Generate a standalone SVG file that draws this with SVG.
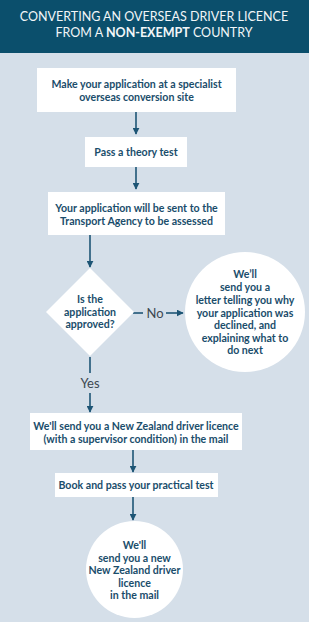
<svg xmlns="http://www.w3.org/2000/svg" width="309" height="622" viewBox="0 0 309 622">
<defs>
<marker id="ah" viewBox="0 0 10 10" refX="9" refY="5" markerWidth="7" markerHeight="7" markerUnits="userSpaceOnUse" orient="auto">
<path d="M0,0 L10,5 L0,10 z" fill="#1d5575"/>
</marker>
</defs>
<style>
.box{fill:#ffffff}
.t{font-family:Lato,"Open Sans","Liberation Sans",sans-serif;font-weight:bold;font-size:10.6px;fill:#1a4d6b;text-anchor:middle}
.h{font-family:Lato,"Open Sans","Liberation Sans",sans-serif;font-weight:normal;font-size:12.5px;fill:#f2f6f8;text-anchor:middle}
.lbl{font-family:Lato,"Open Sans","Liberation Sans",sans-serif;font-weight:normal;font-size:13px;fill:#3d4850;text-anchor:middle}
.c{stroke:#1d5575;stroke-width:1.6;fill:none}
</style>
<rect width="309" height="622" fill="#d5dfe9"/>
<g id="header">
<rect width="309" height="53" fill="#0b4f6c"/>
<text class="h" x="154" y="21">CONVERTING AN OVERSEAS DRIVER LICENCE</text>
<text class="h" x="154" y="37">FROM A <tspan font-weight="bold">NON-EXEMPT</tspan> COUNTRY</text>
</g>
<g id="connectors">
<line class="c" x1="136" y1="112" x2="136" y2="134" marker-end="url(#ah)"/>
<line class="c" x1="136" y1="167" x2="136" y2="189" marker-end="url(#ah)"/>
<line class="c" x1="90" y1="235" x2="90" y2="267" marker-end="url(#ah)"/>
<line class="c" x1="133" y1="313" x2="143" y2="313"/>
<line class="c" x1="166" y1="313" x2="183" y2="313" marker-end="url(#ah)"/>
<line class="c" x1="90" y1="357" x2="90" y2="373"/>
<line class="c" x1="90" y1="393" x2="90" y2="412" marker-end="url(#ah)"/>
<line class="c" x1="133" y1="450" x2="133" y2="472" marker-end="url(#ah)"/>
<line class="c" x1="133" y1="497" x2="133" y2="520" marker-end="url(#ah)"/>
<text class="lbl" x="155" y="318">No</text>
<text class="lbl" x="90" y="388">Yes</text>
</g>
<g id="n1">
<rect class="box" x="37" y="68" width="199" height="44"/>
<text class="t" x="136.5" y="88">Make your application at a specialist</text>
<text class="t" x="136.5" y="101">overseas conversion site</text>
</g>
<g id="n2">
<rect class="box" x="85" y="137" width="102" height="30"/>
<text class="t" x="136" y="156">Pass a theory test</text>
</g>
<g id="n3">
<rect class="box" x="48" y="192" width="177" height="43"/>
<text class="t" x="136.5" y="212">Your application will be sent to the</text>
<text class="t" x="136.5" y="225">Transport Agency to be assessed</text>
</g>
<g id="n4">
<polygon class="box" points="90,268 134,312 90,356 46,312"/>
<text class="t" x="90" y="303">Is the</text>
<text class="t" x="90" y="316">application</text>
<text class="t" x="90" y="328">approved?</text>
</g>
<g id="n5">
<circle class="box" cx="245" cy="312" r="60"/>
<text class="t" x="245" y="278">We’ll</text>
<text class="t" x="245" y="291">send you a</text>
<text class="t" x="245" y="304">letter telling you why</text>
<text class="t" x="245" y="317">your application was</text>
<text class="t" x="245" y="329">declined, and</text>
<text class="t" x="245" y="342">explaining what to</text>
<text class="t" x="245" y="354">do next</text>
</g>
<g id="n6">
<rect class="box" x="30" y="413" width="212" height="37"/>
<text class="t" x="136" y="430">We'll send you a New Zealand driver licence</text>
<text class="t" x="136" y="443">(with a supervisor condition) in the mail</text>
</g>
<g id="n7">
<rect class="box" x="55" y="473" width="163" height="24"/>
<text class="t" x="136" y="489">Book and pass your practical test</text>
</g>
<g id="n8">
<circle class="box" cx="134.5" cy="569.5" r="48.5"/>
<text class="t" x="134.5" y="549">We'll</text>
<text class="t" x="134.5" y="562">send you a new</text>
<text class="t" x="134.5" y="574">New Zealand driver</text>
<text class="t" x="134.5" y="587">licence</text>
<text class="t" x="134.5" y="599">in the mail</text>
</g>
</svg>
